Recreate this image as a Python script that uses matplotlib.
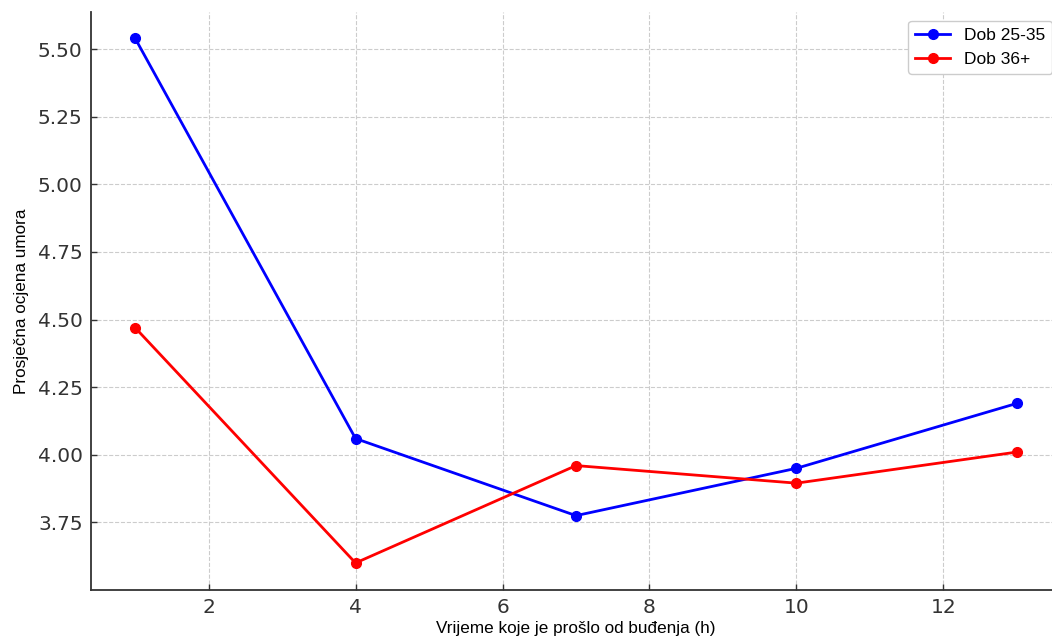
import matplotlib.pyplot as plt

hours = [1, 4, 7, 10, 13]
dob_25_35 = [5.54, 4.06, 3.775, 3.95, 4.19]
dob_36 = [4.47, 3.60, 3.96, 3.895, 4.01]

fig = plt.figure(figsize=(10.52, 6.39), dpi=100)
ax = fig.add_axes([91 / 1052, 1 - 590 / 639, (1061 - 91) / 1052, (590 - 12) / 639])

ax.plot(hours, dob_25_35, c='blue', marker='o', lw=2, ms=7, label='Dob 25-35')
ax.plot(hours, dob_36, c='red', marker='o', lw=2, ms=7, label='Dob 36+')

ax.set_xlim(0.4, 13.6)
ax.set_ylim(3.5, 5.637)
ax.set_yticks([3.75, 4.0, 4.25, 4.5, 4.75, 5.0, 5.25, 5.5])
ax.set_xticks([2, 4, 6, 8, 10, 12])
ax.grid(True, ls='--', color='#cccccc', lw=0.8)
ax.set_axisbelow(True)

for s in ['top', 'right']:
    ax.spines[s].set_visible(False)
for s in ['left', 'bottom']:
    ax.spines[s].set_color('#333333')
    ax.spines[s].set_linewidth(1.3)
ax.tick_params(direction='in', length=4, width=1, colors='#333333', labelsize=14.5, pad=6)
ax.yaxis.set_major_formatter(plt.FormatStrFormatter('%.2f'))

ax.set_xlabel('Vrijeme koje je prošlo od buđenja (h)', family='Liberation Sans', fontsize=12.3, labelpad=3)
ax.set_ylabel('Prosječna ocjena umora', family='Liberation Sans', fontsize=12.3, labelpad=6)

ax.legend(loc='upper right', bbox_to_anchor=(1.0, 1 - 21 / 639), bbox_transform=fig.transFigure,
          borderaxespad=0, prop={'family': 'Liberation Sans', 'size': 12.5}, framealpha=1)

fig.savefig('out.png', dpi=100)
